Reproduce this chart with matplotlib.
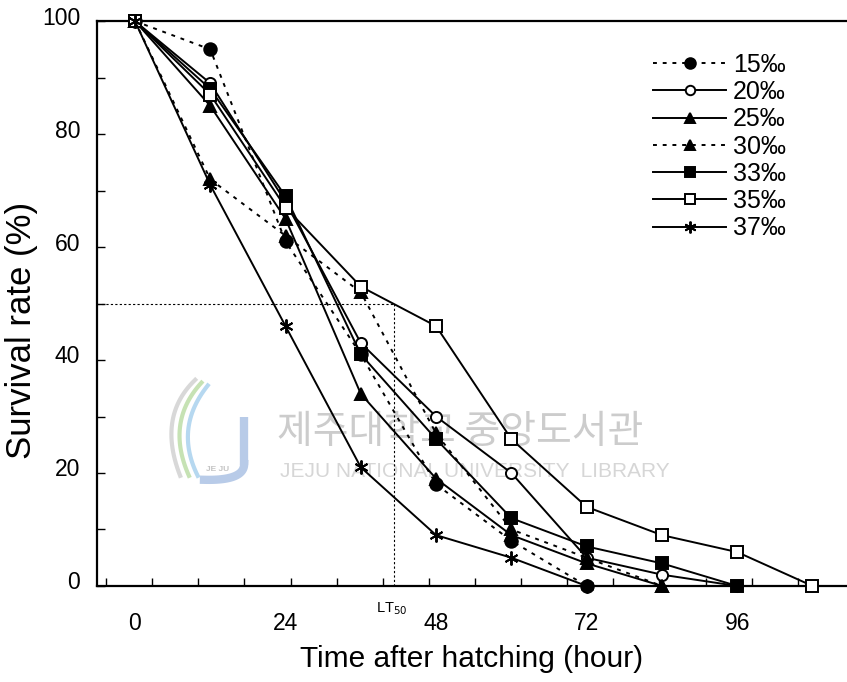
import numpy as np
import matplotlib
matplotlib.use('Agg')
import matplotlib.pyplot as plt
from matplotlib.transforms import ScaledTranslation

# survival data
hours = [0, 12, 24, 36, 48, 60, 72, 84, 96, 108]
labels = ['15‰', '20‰', '25‰', '30‰', '33‰', '35‰', '37‰']
s15 = [100, 95, 61, 41, 18, 8, 0]
s20 = [100, 89, 68, 43, 30, 20, 5, 2, 0]
s25 = [100, 85, 65, 34, 19, 9, 4, 0]
s30 = [100, 72, 62, 52, 27, 10, 5, 0]
s33 = [100, 88, 69, 41, 26, 12, 7, 4, 0]
s35 = [100, 87, 67, 53, 46, 26, 14, 9, 6, 0]
s37 = [100, 71, 46, 21, 9, 5, 0]
lt50 = 41.3

series = [s15, s20, s25, s30, s33, s35, s37]
dot = (0, (2, 3))
styles = [
    dict(ls=dot, marker='o', mfc='black'),
    dict(ls='-', marker='o', mfc='white', ms=8),
    dict(ls='-', marker='^', mfc='black'),
    dict(ls=dot, marker='^', mfc='black'),
    dict(ls='-', marker='s', mfc='black'),
    dict(ls='-', marker='s', mfc='white'),
    dict(ls='-', marker=(6, 2, 0), mfc='black', ms=10),
]


def bezier(p0, p1, p2, n=30):
    # quadratic curve, only used for the faint logo
    t = np.linspace(0, 1, n)[:, None]
    p0, p1, p2 = map(np.asarray, (p0, p1, p2))
    pts = (1 - t) ** 2 * p0 + 2 * (1 - t) * t * p1 + t ** 2 * p2
    return pts[:, 0], pts[:, 1]


fig = plt.figure(figsize=(8.47, 6.82), dpi=100)
ax = fig.add_axes([0.1145, 0.1408, 0.8855, 0.8282])

for s, lab, st in zip(series, labels, styles):
    kw = dict(color='black', mec='black', lw=1.4, ms=9, mew=1.4)
    kw.update(st)
    ax.plot(hours[:len(s)], s, label=lab, clip_on=False, zorder=3, **kw)

# LT50 guide lines
ax.plot([-6.06, lt50], [50, 50], color='black', lw=0.8, ls=(0, (2, 2)))
ax.plot([lt50, lt50], [0, 50], color='black', lw=0.8, ls=(0, (2, 2)))
ax.text(lt50 - 0.3, -2.6, 'LT$_{50}$', ha='center', va='top', fontsize=10.5,
        family='Liberation Sans')

# library watermark (drawn under the data)
ax.text(51.8, 27.3, '제주대학교 중앙도서관', fontsize=28, color='#cccccc',
        family=['Noto Sans CJK KR', 'DejaVu Sans'], ha='center', va='center', zorder=0)
ax.text(54.2, 20.2, 'JEJU NATIONAL UNIVERSITY  LIBRARY', fontsize=15, color='#d6d6d6',
        family='Liberation Sans', ha='center', va='center', zorder=0)
# rough logo
ax.plot([17.4, 17.4], [30.0, 21.5], color='#b8cbe8', lw=6, solid_capstyle='butt', zorder=0)
ax.plot(*bezier((17.4, 21.6), (17.4, 18.6), (11.0, 18.8)), color='#b8cbe8', lw=6, zorder=0)
ax.plot(*bezier((9.6, 36.5), (3.5, 30), (7.2, 19.5)), color='#d8d8d8', lw=3, zorder=0)
ax.plot(*bezier((10.6, 36.0), (4.8, 29), (8.6, 19.5)), color='#c6e2b4', lw=3, zorder=0)
ax.plot(*bezier((11.6, 35.5), (6.2, 28), (10.0, 19.5)), color='#b6d8f0', lw=3, zorder=0)
ax.text(13.2, 20.6, 'JE JU', fontsize=6, color='#c4c4c4', ha='center', va='center',
        family='Liberation Sans', weight='bold', zorder=0)

ax.set_xlim(-6.06, 113.5)
ax.set_ylim(0, 100)
ax.spines['right'].set_visible(False)
for sp in ['left', 'top', 'bottom']:
    ax.spines[sp].set_linewidth(1.6)

ax.set_xticks([0, 24, 48, 72, 96])
ax.set_xticks(np.arange(-4.6, 113, 7.35), minor=True)
ax.tick_params(axis='x', which='major', length=0, pad=19)
ax.tick_params(axis='x', which='minor', direction='in', length=6, width=1)
ax.set_yticks([0, 20, 40, 60, 80, 100])
ax.set_yticks(np.arange(10, 100, 20), minor=True)
ax.tick_params(axis='y', which='both', direction='in', length=6, width=1, pad=12)

for t in ax.get_xticklabels() + ax.get_yticklabels():
    t.set_family('Liberation Sans')
    t.set_fontsize(16.5)
shift = ScaledTranslation(0, 4 / 72, fig.dpi_scale_trans)
for t in ax.get_yticklabels():
    t.set_transform(t.get_transform() + shift)

ax.set_xlabel('Time after hatching (hour)', fontsize=21.5,
              family='Liberation Sans', labelpad=7)
ax.set_ylabel('Survival rate (%)', fontsize=25, family='Liberation Sans')
ax.yaxis.set_label_coords(-0.078, 0.453)

leg = ax.legend(loc='upper left', bbox_to_anchor=(0.741, 0.944), frameon=False,
                handlelength=2.95, handletextpad=0.25, borderpad=0, borderaxespad=0,
                labelspacing=0.13, markerscale=0.85,
                prop={'family': 'Liberation Sans', 'size': 18})

fig.savefig('out.png', dpi=100)
